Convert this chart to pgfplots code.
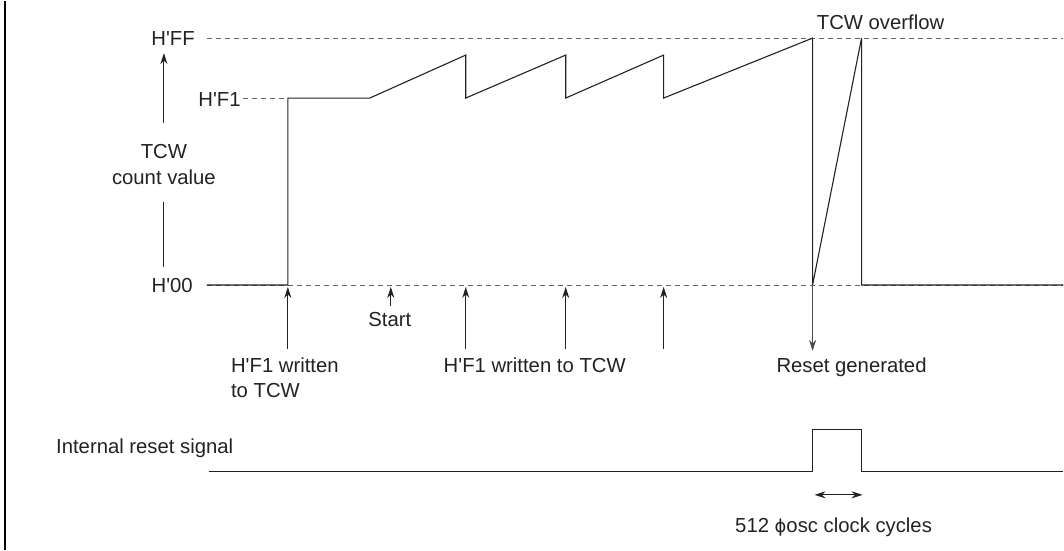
\documentclass[border=0pt]{standalone}
\usepackage{pgfplots}
\pgfplotsset{compat=1.18}
\usepackage{fontspec}
\setmainfont{Liberation Sans}
\newfontfamily\dejavu[Scale=0.88]{DejaVu Sans}
\usetikzlibrary{arrows.meta}
\definecolor{ink}{HTML}{222222}
\definecolor{dash}{HTML}{666666}
\newcommand{\q}{\textquotesingle}
\tikzset{
  sol/.style={solid, draw=ink, line width=1.1bp},
  dashline/.style={draw=dash, line width=0.9bp, dash pattern=on 5bp off 4bp},
  arr/.style={sol, -{Stealth[length=11bp,width=7bp,inset=3.5bp]}},
  darr/.style={sol, {Stealth[length=11bp,width=7bp,inset=3.5bp]}-{Stealth[length=11bp,width=7bp,inset=3.5bp]}},
  txt/.style={inner sep=0pt, text=ink, font=\fontsize{20.3bp}{24bp}\selectfont},
}
\begin{document}
\fontsize{20.3bp}{24bp}\selectfont
\begin{tikzpicture}
\begin{axis}[
  width=1064bp, height=549bp, scale only axis,
  xmin=0, xmax=1064, ymin=0, ymax=549, y dir=reverse,
  hide axis, clip=false, no markers,
]
% bounding frame (invisible)
\addplot[draw=none] coordinates {(0,0) (1064,549)};
% left border
\addplot[solid, line width=2.2bp, draw=black] coordinates {(5,0) (5,549)};
% reference levels
\addplot[dashline] coordinates {(207,37) (1064,37)};
\addplot[dashline] coordinates {(243,97) (288,97)};
\addplot[dashline] coordinates {(207,284) (1064,284)};
% TCW count trace
\addplot[sol] coordinates {(207,284) (288,284) (288,97) (370,97) (466,54) (466,97)
  (566,54) (566,97) (664,54) (664,97) (813,37) (813,284) (862,37) (862,284) (1064,284)};
% y-axis arrow
\addplot[arr] coordinates {(164,122) (164,52)};
\addplot[sol] coordinates {(164,201) (164,266)};
% write arrows
\addplot[arr] coordinates {(288,348) (288,286)};
\addplot[arr] coordinates {(391,305) (391,286)};
\addplot[arr] coordinates {(466,348) (466,286)};
\addplot[arr] coordinates {(566,348) (566,286)};
\addplot[arr] coordinates {(664,348) (664,286)};
% reset arrow
\addplot[arr, draw=black!70] coordinates {(813,285) (813,350)};
% internal reset signal
\addplot[sol] coordinates {(209,470.5) (813,470.5) (813,429) (862,429) (862,470.5) (1064,470.5)};
\addplot[darr] coordinates {(815,494) (863,494)};
% texts
\node[txt, anchor=base east] at (axis cs:195,44) {H\q FF};
\node[txt, anchor=base east] at (axis cs:241,105) {H\q F1};
\node[txt, anchor=base east] at (axis cs:193,292) {H\q 00};
\node[txt, anchor=base] at (axis cs:164,157) {TCW};
\node[txt, anchor=base] at (axis cs:164,183) {count value};
\node[txt, anchor=base] at (axis cs:881,28) {TCW overflow};
\node[txt, anchor=base] at (axis cs:390,326) {Start};
\node[txt, anchor=base west] at (axis cs:231,372) {H\q F1 written};
\node[txt, anchor=base west] at (axis cs:231,397) {to TCW};
\node[txt, anchor=base] at (axis cs:535,372) {H\q F1 written to TCW};
\node[txt, anchor=base] at (axis cs:852,372) {Reset generated};
\node[txt, anchor=base west] at (axis cs:56,453) {Internal reset signal};
\node[txt, anchor=base] at (axis cs:834,532) {512 {\dejavu ϕ}osc clock cycles};
\end{axis}
\end{tikzpicture}
\end{document}
